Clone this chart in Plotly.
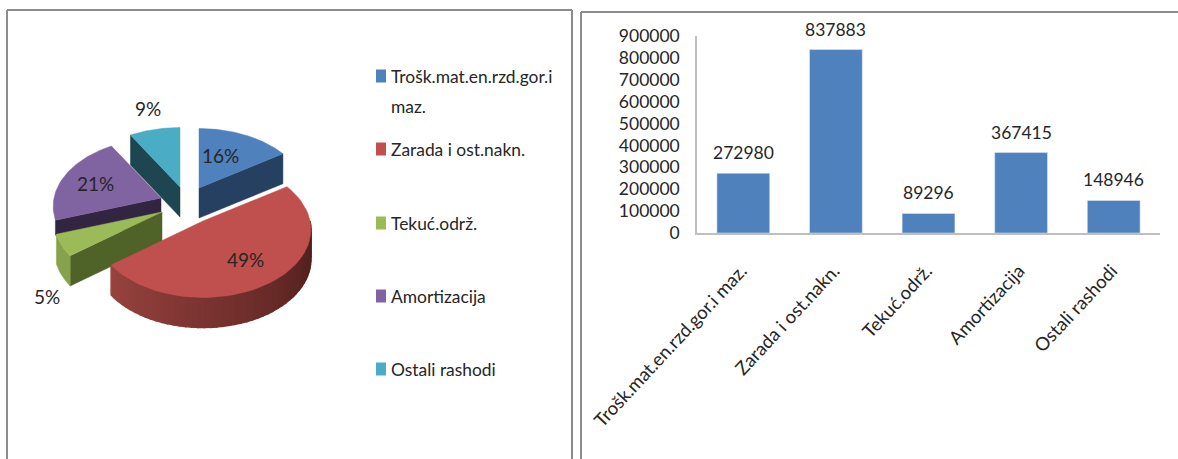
import math
import plotly.graph_objects as go

# ---- data ----
CATEGORIES = ["Trošk.mat.en.rzd.gor.i maz.", "Zarada i ost.nakn.", "Tekuć.održ.", "Amortizacija", "Ostali rashodi"]
VALUES = [272980, 837883, 89296, 367415, 148946]
Y_TICKS = [0, 100000, 200000, 300000, 400000, 500000, 600000, 700000, 800000, 900000]

# ---- style and pie geometry ----
TOP = ["#4f81bd", "#c0504d", "#9bbb59", "#8064a2", "#4bacc6"]
CUT = ["#254061", "#4a1c1a", "#4f6228", "#312541", "#1d4650"]
OUTER = ["#254061", None, "#86a34b", "#312541", "#1d4650"]
CENTERS = [(199, 188), (203, 221), (162, 212), (161, 198), (180, 187)]
LABEL_POS = [(220, 155), (245, 259), (47, 296), (95, 183), (148, 108)]
A, B, K, DEPTH = 107, 68, 0.125, 30
FONT = "Lato, sans-serif"
TEXT = "#262626"

total = sum(VALUES)
fig = go.Figure()


def rim(i, t_deg):
    t = math.radians(t_deg)
    u, v = math.sin(t), -math.cos(t)
    p = 1 + K * v
    return CENTERS[i][0] + A * u * p, CENTERS[i][1] + B * v * p


def poly(pts, color, lw=0.5):
    fig.add_trace(go.Scatter(
        x=[p[0] for p in pts] + [pts[0][0]], y=[p[1] for p in pts] + [pts[0][1]],
        mode="lines", fill="toself", fillcolor=color,
        line=dict(color=color, width=lw), hoverinfo="skip", showlegend=False,
        xaxis="x", yaxis="y"))


def down(p, d=DEPTH):
    return (p[0], p[1] + d)


angles = []
acc = 0.0
for val in VALUES:
    angles.append((acc, acc + val / total * 360))
    acc += val / total * 360


def arc(i, t0, t1, n=60):
    return [rim(i, t0 + (t1 - t0) * k / n) for k in range(n + 1)]


def lerp_hex(c0, c1, f):
    a = [int(c0[j:j + 2], 16) for j in (1, 3, 5)]
    b = [int(c1[j:j + 2], 16) for j in (1, 3, 5)]
    return "#" + "".join(f"{round(x + (y - x) * f):02x}" for x, y in zip(a, b))


for i in [4, 3, 0, 2, 1]:
    t0, t1 = angles[i]
    apex = CENTERS[i]
    if i in (0, 4, 3, 2):
        e = rim(i, t1 if i == 0 else t0)
        # the purple cut face only shows as a thin band above the green slice
        d_end = 15 if i == 3 else DEPTH
        poly([apex, e, down(e, d_end), down(apex)], CUT[i])
    if i == 2:
        wall = arc(i, t0, t1, 20)
        poly(wall + [down(p) for p in reversed(wall)], OUTER[i])
    if i == 1:
        steps = 48
        pts = arc(i, 90, t1, steps)
        for k in range(steps):
            f = k / (steps - 1)
            poly([pts[k], pts[k + 1], down(pts[k + 1]), down(pts[k])],
                 lerp_hex("#4a1c1a", "#97423e", f), lw=1.5)
    poly([apex] + arc(i, t0, t1), TOP[i])

# pie percentage labels
for val, (lx, ly) in zip(VALUES, LABEL_POS):
    fig.add_annotation(x=lx, y=ly, xref="x", yref="y", showarrow=False,
                       text=f"{round(val / total * 100)}%",
                       font=dict(family=FONT, size=19, color=TEXT))

# pie legend
LEGEND_LINES = [("Trošk.mat.en.rzd.gor.i", 76), ("maz.", 106), ("Zarada i ost.nakn.", 149),
                ("Tekuć.održ.", 223), ("Amortizacija", 296), ("Ostali rashodi", 369)]
SWATCH_Y = [76, 149, 223, 296, 369]
for txt, ly in LEGEND_LINES:
    fig.add_annotation(x=389, y=ly, xref="x", yref="y", xanchor="left", showarrow=False,
                       text=txt, font=dict(family=FONT, size=17.4, color=TEXT))
for col, sy in zip(TOP, SWATCH_Y):
    fig.add_shape(type="rect", xref="x", yref="y", x0=376, x1=386, y0=sy - 6.5, y1=sy + 6.5,
                  fillcolor=col, line=dict(width=0))

# panel frames
FRAME_SEGMENTS = [(7, 10, 7, 459), (572, 10, 572, 459), (7, 10, 572, 10),
                  (581, 12, 581, 459), (581, 12, 1178, 12)]
for seg in FRAME_SEGMENTS:
    fig.add_shape(type="line", xref="x", yref="y", x0=seg[0], y0=seg[1], x1=seg[2], y1=seg[3],
                  line=dict(color="#8c8c8c", width=2))

# bar chart
fig.add_trace(go.Bar(x=CATEGORIES, y=VALUES, marker_color="#4f81bd", width=0.57,
                     xaxis="x2", yaxis="y2", showlegend=False))
for c, v in zip(CATEGORIES, VALUES):
    fig.add_annotation(x=c, y=v, xref="x2", yref="y2", yanchor="bottom", yshift=8, showarrow=False,
                       text=str(v), font=dict(family=FONT, size=17.5, color=TEXT))

fig.update_layout(
    width=1178, height=459, margin=dict(l=0, r=0, t=0, b=0, autoexpand=False),
    paper_bgcolor="white", plot_bgcolor="rgba(0,0,0,0)", showlegend=False,
    xaxis=dict(domain=[0, 1], range=[0, 1178], visible=False, fixedrange=True, automargin=False),
    yaxis=dict(domain=[0, 1], range=[459, 0], visible=False, fixedrange=True, automargin=False),
    xaxis2=dict(domain=[697 / 1178, 1160 / 1178], anchor="y2", type="category", automargin=False,
                tickangle=-47, ticks="", showline=True, linecolor="#bfbfbf", linewidth=1.5,
                tickfont=dict(family=FONT, size=18.5, color=TEXT), showgrid=False,
                ticklabelstandoff=18, ticklabelshift=-2),
    yaxis2=dict(domain=[1 - 233 / 459, 1 - 36 / 459], anchor="x2", range=[0, 900000], automargin=False,
                tickvals=Y_TICKS, ticktext=[str(t) for t in Y_TICKS], showgrid=False, zeroline=False,
                ticks="", showline=True, linecolor="#bfbfbf", linewidth=1.5,
                tickfont=dict(family=FONT, size=17.5, color=TEXT), ticklabelstandoff=12),
)
fig.write_html("out.html", config=dict(displayModeBar=False),
               post_script="document.body.style.margin='0';")
